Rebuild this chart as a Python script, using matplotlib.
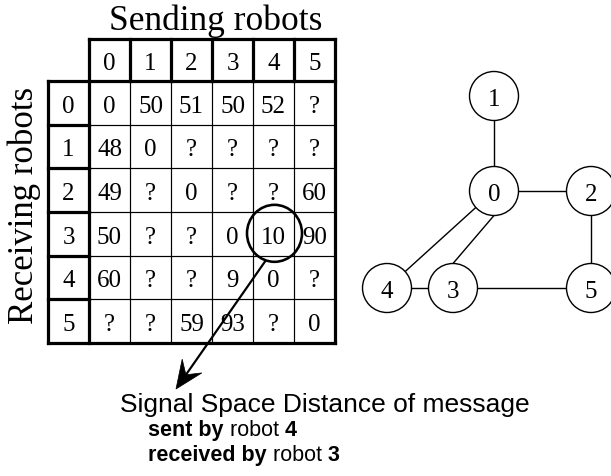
import matplotlib
matplotlib.use("Agg")
import numpy as np
import matplotlib.pyplot as plt
from matplotlib.patches import Circle, Ellipse, Polygon

# ---------------- data ----------------
senders = ["0", "1", "2", "3", "4", "5"]
receivers = ["0", "1", "2", "3", "4", "5"]
ssd = [
    ["0", "50", "51", "50", "52", "?"],
    ["48", "0", "?", "?", "?", "?"],
    ["49", "?", "0", "?", "?", "60"],
    ["50", "?", "?", "0", "10", "90"],
    ["60", "?", "?", "9", "0", "?"],
    ["?", "?", "59", "93", "?", "0"],
]
title_top = "Sending robots"
title_left = "Receiving robots"
highlight = (3, 4)  # (receiver row, sender col)

node_names = ["0", "1", "2", "3", "4", "5"]
edges = [("1", "0"), ("0", "2"), ("2", "5"), ("0", "4"), ("0", "3"), ("4", "3"), ("3", "5")]

caption_main = "Signal Space Distance of message"
caption_sent = ("sent by", "robot", "4")
caption_recv = ("received by", "robot", "3")

# ---------------- layout ----------------
W, H = 611, 477
fig = plt.figure(figsize=(W / 100, H / 100), dpi=100)
ax = fig.add_axes([0, 0, 1, 1])
ax.set_xlim(0, W)
ax.set_ylim(H, 0)
ax.axis("off")

SERIF = "Liberation Serif"
SANS = "Liberation Sans"
def px(p):
    return p * 0.72

thick = px(3.2)
thin = px(1.2)

x_hdr0, x_data0, x_data1 = 48, 89, 335
y_hdr0, y_data0, y_data1 = 40, 82, 344
ncol = len(senders)
nrow = len(receivers)
cw = (x_data1 - x_data0) / ncol
rh = (y_data1 - y_data0) / nrow

def colx(i):
    return x_data0 + i * cw

def rowy(j):
    return y_data0 + j * rh

# thin inner grid in the data area
for i in range(1, ncol):
    ax.plot([colx(i), colx(i)], [y_data0, y_data1], color="black", lw=thin, solid_capstyle="butt")
for j in range(1, nrow):
    ax.plot([x_data0, x_data1], [rowy(j), rowy(j)], color="black", lw=thin, solid_capstyle="butt")

# thick header separators
for i in range(1, ncol):
    ax.plot([colx(i), colx(i)], [y_hdr0, y_data0], color="black", lw=thick, solid_capstyle="projecting")
for j in range(1, nrow):
    ax.plot([x_hdr0, x_data0], [rowy(j), rowy(j)], color="black", lw=thick, solid_capstyle="projecting")

# thick outlines
outline = [
    ([x_data0, x_data1], [y_hdr0, y_hdr0]),
    ([x_data1, x_data1], [y_hdr0, y_data1]),
    ([x_hdr0, x_data1], [y_data1, y_data1]),
    ([x_hdr0, x_hdr0], [y_data0, y_data1]),
    ([x_hdr0, x_data1], [y_data0, y_data0]),
    ([x_data0, x_data0], [y_hdr0, y_data1]),
]
for xs, ys in outline:
    ax.plot(xs, ys, color="black", lw=thick, solid_capstyle="projecting")

cell_fs = 18
base_off = 9
for i, s in enumerate(senders):
    ax.text(colx(i) + cw / 2, (y_hdr0 + y_data0) / 2 + base_off, s, ha="center", va="baseline",
            fontsize=cell_fs, family=SERIF)
for j, r in enumerate(receivers):
    ax.text((x_hdr0 + x_data0) / 2, rowy(j) + rh / 2 + base_off, r, ha="center", va="baseline",
            fontsize=cell_fs, family=SERIF)
for j in range(nrow):
    for i in range(ncol):
        ax.text(colx(i) + cw / 2, rowy(j) + rh / 2 + base_off, ssd[j][i], ha="center", va="baseline",
                fontsize=cell_fs, family=SERIF)

ax.text((x_data0 + x_data1) / 2 + 4, 30, title_top, ha="center", va="baseline",
        fontsize=25.5, family=SERIF)
ax.text(24, (y_data0 + y_data1) / 2 - 8, title_left, ha="center", va="center", rotation=90,
        fontsize=25, family=SERIF)

# highlight circle + arrow
hj, hi = highlight
hx = colx(hi) + cw / 2 + 1
hy = rowy(hj) + rh / 2 - 0.5
ax.add_patch(Ellipse((hx, hy), 55, 57, fill=False, lw=px(2.6), ec="black", zorder=5))
start = np.array([hx - 9, hy + 27.5])
tip = np.array([176.0, 390.0])
u = (tip - start) / np.linalg.norm(tip - start)
nrm = np.array([-u[1], u[0]])
L, Wd = 28.0, 24.0
base = tip - L * u
notch = tip - 0.62 * L * u
ax.plot([start[0], notch[0]], [start[1], notch[1]], color="black", lw=px(2.2), zorder=6)
ax.add_patch(Polygon([tip, base + Wd / 2 * nrm, notch, base - Wd / 2 * nrm], closed=True,
                     fc="black", ec="black", lw=0.5, zorder=6))

# captions
ax.text(325, 412, caption_main, ha="center", va="baseline", fontsize=19, family=SANS)
for (bold1, reg, bold2), yb in [(caption_sent, 436), (caption_recv, 461)]:
    t1 = ax.text(148, yb, bold1 + " ", ha="left", va="baseline", fontsize=15.5, family=SANS,
                 fontweight="bold")
    t2 = ax.annotate(reg + " ", xycoords=t1, xy=(1, 0), va="bottom", ha="left",
                     fontsize=15.5, family=SANS)
    ax.annotate(bold2, xycoords=t2, xy=(1, 0), va="bottom", ha="left",
                fontsize=15.5, family=SANS, fontweight="bold")

# graph
pos = {"1": (494, 97), "0": (494, 192), "2": (591, 192),
       "4": (387, 289), "3": (453, 289), "5": (591, 289)}
R = 24.5
for a, b in edges:
    (xa, ya), (xb, yb) = pos[a], pos[b]
    if (a, b) == ("0", "3"):
        ya, yb = ya + R, yb - R
    ax.plot([xa, xb], [ya, yb], color="black", lw=px(1.4), zorder=2)
for n in node_names:
    x, y = pos[n]
    ax.add_patch(Circle((x, y), R, fc="white", ec="black", lw=px(1.4), zorder=3))
    ax.text(x, y + 9, n, ha="center", va="baseline", fontsize=18, family=SERIF, zorder=4)

fig.savefig("out.png", dpi=100)
